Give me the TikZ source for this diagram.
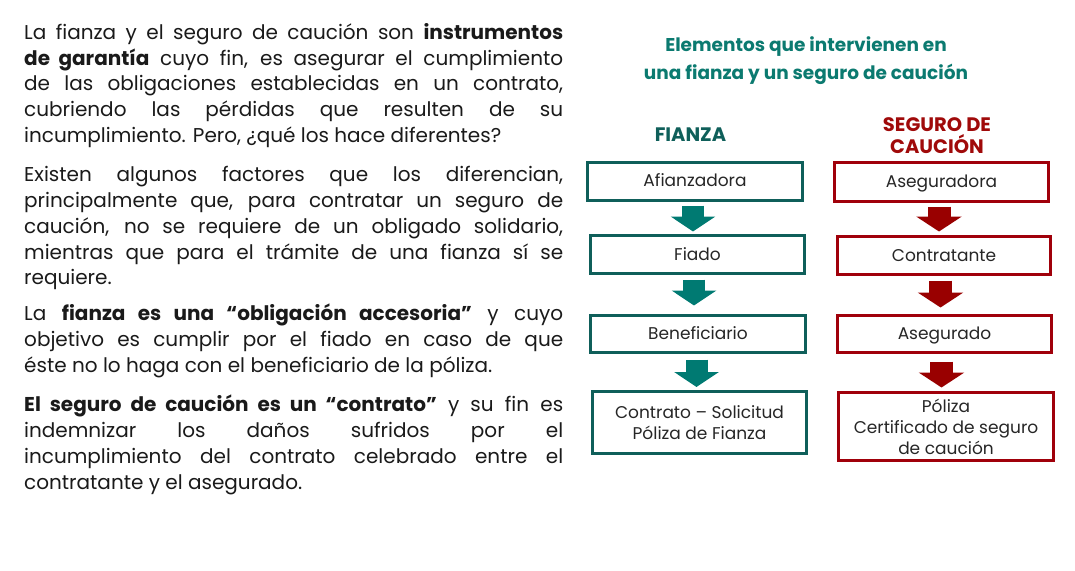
\documentclass[tikz,border=0pt]{standalone}
\usepackage{fontspec}
\setmainfont{Poppins}
\usetikzlibrary{arrows.meta,calc}
\definecolor{tealA}{HTML}{007A72}
\definecolor{tealB}{HTML}{0F5F5A}
\definecolor{tealT}{HTML}{0B7A70}
\definecolor{redA}{HTML}{990000}
\definecolor{redB}{HTML}{A0000A}
\definecolor{redT}{HTML}{A00A0A}
\definecolor{txt}{HTML}{1A1A1A}
\definecolor{boxtxt}{HTML}{262626}
\newcommand\jl[1]{\makebox[539pt][s]{#1}}
\begin{document}
\begin{tikzpicture}[x=1pt,y=-1pt,
  bodyline/.style={anchor=base west,inner sep=0pt,text=txt,font=\fontsize{20}{25.75}\selectfont},
  titleline/.style={anchor=base,inner sep=0pt,text=tealT,font=\fontsize{18.5}{21}\selectfont\bfseries},
  headline/.style={anchor=base,inner sep=0pt,font=\fontsize{19.5}{21}\selectfont\bfseries},
  fbox/.style={draw=tealB,line width=3pt,inner sep=0pt,align=center,text=boxtxt,font=\fontsize{17}{21}\selectfont},
  rbox/.style={draw=redB,line width=3pt,inner sep=0pt,align=center,text=boxtxt,font=\fontsize{17}{21}\selectfont},
  oneline/.style={text height=11.5pt,text depth=0pt},
  tarrow/.style={draw=tealA,line width=22pt,-{Triangle[width=44pt,length=15pt]}},
  rarrow/.style={draw=redA,line width=23pt,-{Triangle[width=45pt,length=15pt]}}]
\useasboundingbox[fill=white] (0,0) rectangle (1075,570);
% left text
\node[bodyline] (l1) at (24,39.3) {\jl{La fianza y el seguro de caución son \textbf{instrumentos}}};
\node[bodyline] (l2) at (24,65) {\jl{\textbf{de garantía} cuyo fin, es asegurar el cumplimiento}};
\node[bodyline] (l3) at (24,90.8) {\jl{de las obligaciones establecidas en un contrato,}};
\node[bodyline] (l4) at (24,116.5) {\jl{cubriendo las pérdidas que resulten de su}};
\node[bodyline] (l5) at (24,142.3) {incumplimiento. Pero, ¿qué los hace diferentes?};
\node[bodyline] (l6) at (24,181.7) {\jl{Existen algunos factores que los diferencian,}};
\node[bodyline] (l7) at (24,207.5) {\jl{principalmente que, para contratar un seguro de}};
\node[bodyline] (l8) at (24,233.2) {\jl{caución, no se requiere de un obligado solidario,}};
\node[bodyline] (l9) at (24,259) {\jl{mientras que para el trámite de una fianza sí se}};
\node[bodyline] (l10) at (24,284.8) {requiere.};
\node[bodyline] (l11) at (24,320.7) {\jl{La \textbf{fianza es una “obligación accesoria”} y cuyo}};
\node[bodyline] (l12) at (24,346.5) {\jl{objetivo es cumplir por el fiado en caso de que}};
\node[bodyline] (l13) at (24,372.3) {éste no lo haga con el beneficiario de la póliza.};
\node[bodyline] (l14) at (24,411.7) {\jl{\textbf{El seguro de caución es un “contrato”} y su fin es}};
\node[bodyline] (l15) at (24,437.5) {\jl{indemnizar los daños sufridos por el}};
\node[bodyline] (l16) at (24,463.2) {\jl{incumplimiento del contrato celebrado entre el}};
\node[bodyline] (l17) at (24,489) {contratante y el asegurado.};
% titles
\node[titleline] (t1) at (806,51.7) {Elementos que intervienen en};
\node[titleline] (t2) at (806,79.3) {una fianza y un seguro de caución};
\node[headline,text=tealB] (hf) at (690.5,141.7) {FIANZA};
\node[headline,text=redT] (hs1) at (937,131.7) {SEGURO DE};
\node[headline,text=redT] (hs2) at (937,153.3) {CAUCIÓN};
% fianza boxes
\node[fbox,oneline,minimum width=215pt,minimum height=38pt] (f1) at (695,181) {Afianzadora};
\node[fbox,oneline,minimum width=214pt,minimum height=38pt] (f2) at (697.5,254.5) {Fiado};
\node[fbox,oneline,minimum width=215pt,minimum height=37pt] (f3) at (698,333.5) {Beneficiario};
\node[fbox,minimum width=214pt,minimum height=62pt] (f4) at (699.5,422.5) {Contrato – Solicitud\\Póliza de Fianza};
% seguro boxes
\node[rbox,oneline,minimum width=214pt,minimum height=39pt] (r1) at (941.5,182) {Aseguradora};
\node[rbox,oneline,minimum width=213pt,minimum height=38pt] (r2) at (944,255.5) {Contratante};
\node[rbox,oneline,minimum width=214pt,minimum height=37pt] (r3) at (944.5,334) {Asegurado};
\node[rbox,minimum width=215pt,minimum height=68pt] (r4) at (946,426.5) {Póliza\\Certificado de seguro\\de caución};
% arrows
\coordinate (sa1) at ($(f1.south)+(-2,4)$);
\coordinate (sa2) at ($(f2.south)+(-3.5,4.5)$);
\coordinate (sa3) at ($(f3.south)+(-1.5,6)$);
\draw[tarrow] (sa1) -- ($(sa1 |- f2.north)+(0,-2.5)$);
\draw[tarrow] (sa2) -- ($(sa2 |- f3.north)+(0,-8)$);
\draw[tarrow] (sa3) -- ($(sa3 |- f4.north)+(0,-3)$);
\coordinate (sb1) at ($(r1.south)+(-2.5,3.5)$);
\coordinate (sb2) at ($(r2.south)+(-3.5,4.5)$);
\coordinate (sb3) at ($(r3.south)+(-3,7.5)$);
\draw[rarrow] (sb1) -- ($(sb1 |- r2.north)+(0,-3.5)$);
\draw[rarrow] (sb2) -- ($(sb2 |- r3.north)+(0,-6.5)$);
\draw[rarrow] (sb3) -- ($(sb3 |- r4.north)+(0,-3.5)$);
\end{tikzpicture}
\end{document}
